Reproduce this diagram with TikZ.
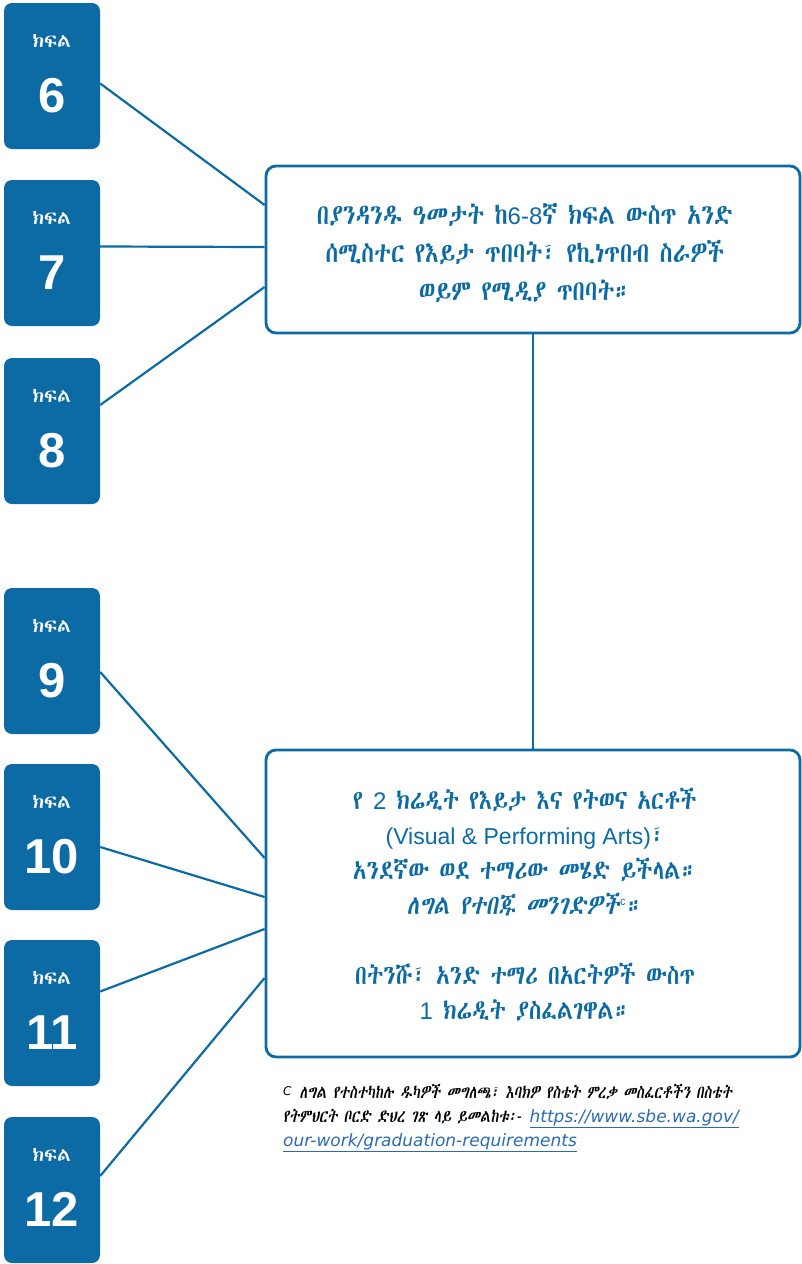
\documentclass[tikz,border=0pt]{standalone}
\usepackage{fontspec}
\setmainfont{Liberation Sans}
\newfontfamily\urlfont{DejaVu Sans}
\IfFontExistsTF{FreeSans.otf}{%
  \newfontfamily\amfont{FreeSans.otf}[BoldFont=FreeSansBold.otf]%
  \newfontfamily\amslant{FreeSans.otf}[FakeSlant=0.2]%
}{%
  \IfFontExistsTF{Abyssinica SIL}{%
    \newfontfamily\amfont{Abyssinica SIL}%
    \newfontfamily\amslant{Abyssinica SIL}[FakeSlant=0.2]%
  }{%
    \newfontfamily\amfont{Noto Sans}%
    \newfontfamily\amslant{Noto Sans}[FakeSlant=0.2]%
  }%
}
\newcommand\lat[1]{{\normalfont\fontsize{24}{24}\selectfont #1}}
\newcommand\nar[1]{\scalebox{0.83}[1]{#1}}
\newcommand\fnar[1]{\scalebox{0.78}[1]{#1}}
\usetikzlibrary{positioning,calc}
\definecolor{kiblue}{RGB}{12,106,164}
\definecolor{urlblue}{RGB}{42,106,178}

\begin{document}
\begin{tikzpicture}[x=1pt,y=-1pt,
  grade/.style={fill=kiblue,rounded corners=8pt,minimum width=96pt,minimum height=146pt,inner sep=0pt},
  gradelbl/.style={text=white,font=\amfont\bfseries\fontsize{19}{20}\selectfont,inner sep=0pt},
  gradenum/.style={text=white,font=\bfseries\fontsize{49}{55}\selectfont,inner sep=0pt},
  bigbox/.style={draw=kiblue,line width=2.8pt,rounded corners=10pt,minimum width=534pt,inner sep=0pt},
  boxtext/.style={text=kiblue,align=center,inner sep=0pt},
  link/.style={kiblue,line width=2.2pt}]
\useasboundingbox (0,0) rectangle (802,1264);
% grade boxes
\foreach \g/\ty in {6/3,7/180,8/358,9/588,10/764,11/940,12/1117} {
  \node[grade] (g\g) at (52,\ty+73) {};
  \node[gradelbl] (k\g) at ([yshift=-38pt]g\g.north) {ክፍል};
  \node[gradenum] (n\g) at ([yshift=-93pt]g\g.north) {\g};
}
% the two boxes on the right
\node[bigbox,minimum height=167pt] (box1) at (533,249.5) {};
\node[bigbox,minimum height=307pt] (box2) at (533,903.5) {};
\node[boxtext,font=\amfont\fontsize{28}{38}\selectfont] (t1) at (525,253)
  {\nar{በያንዳንዱ ዓመታት ከ}\lat{6-8}\nar{ኛ ክፍል ውስጥ አንድ}\\\nar{ሰሚስተር የእይታ ጥበባት፣ የኪነጥበብ ስራዎች}\\\nar{ወይም የሚዲያ ጥበባት።}};
\node[boxtext,font=\amfont\fontsize{27}{35}\selectfont] (t2) at (525,905)
  {\nar{የ }\lat{2}\nar{ ክሬዲት የእይታ እና የትወና አርቶች}\\{\normalfont\fontsize{23}{23}\selectfont (Visual \& Performing Arts)}\nar{፣}\\\nar{አንደኛው ወደ ተማሪው መሄድ ይችላል።}\\\nar{{\amslant ለግል የተበጁ መንገድዎች}\kern1pt\raisebox{9pt}{\normalfont\fontsize{12}{12}\selectfont c}\kern2pt።}\\[35pt]\nar{በትንሹ፣ አንድ ተማሪ በአርትዎች ውስጥ}\\\lat{1}\nar{ ክሬዲት ያስፈልገዋል።}};
% connectors
\draw[link] ([yshift=-7.5pt]g6.east) -- ([yshift=44.5pt]box1.west);
\draw[link] ([yshift=6.5pt]g7.east) -- ([yshift=2.5pt]box1.west);
\draw[link] ([yshift=26pt]g8.east) -- ([yshift=-37.5pt]box1.west);
\draw[link] ([yshift=-11pt]g9.east) -- ([yshift=45.5pt]box2.west);
\draw[link] ([yshift=-10pt]g10.east) -- ([yshift=6.5pt]box2.west);
\draw[link] ([yshift=21.5pt]g11.east) -- ([yshift=-25.5pt]box2.west);
\draw[link] ([yshift=14pt]g12.east) -- ([yshift=-74.5pt]box2.west);
\draw[link] (box1.south) -- (box2.north);
% footnote
\node[anchor=north west,align=left,inner sep=0pt,font=\amslant\fontsize{18}{24}\selectfont] (fn) at (283,1084)
  {\raisebox{3pt}{\urlfont\itshape\fontsize{12}{12}\selectfont C} \fnar{ለግል የተስተካከሉ ዱካዎች መግለጫ፣ እባክዎ የስቴት ምረቃ መስፈርቶችን በስቴት}\\\fnar{የትምህርት ቦርድ ድህረ ገጽ ላይ ይመልከቱ፡{\normalfont\itshape -}} {\urlfont\itshape\fontsize{17}{17}\selectfont\color{urlblue}\underline{https://www.sbe.wa.gov/}}\\{\urlfont\itshape\fontsize{17}{17}\selectfont\color{urlblue}\underline{our-work/graduation-requirements}}};
\end{tikzpicture}
\end{document}
